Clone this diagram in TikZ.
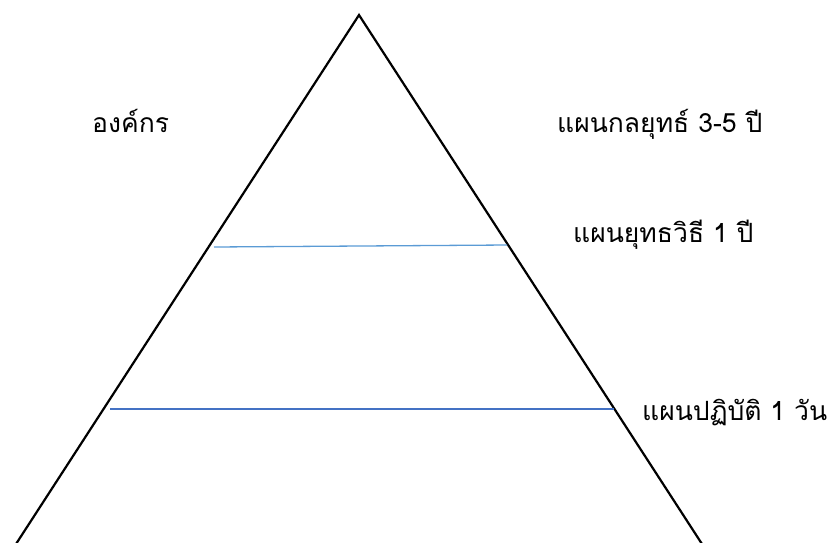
\documentclass[tikz,border=0pt]{standalone}
\usepackage{fontspec}
\usepackage{tikz}
\usetikzlibrary{positioning,calc}
\newfontfamily\thaifont[Script=Thai]{Loma}
\definecolor{lineblue}{RGB}{91,155,213}
\definecolor{darkblue}{RGB}{68,114,196}
\tikzstyle{label} = [anchor=base west, inner sep=0pt, font=\thaifont\fontsize{26.5}{30}\selectfont]
\tikzstyle{edge} = [draw, black, line width=2.2pt, line join=miter]
\tikzstyle{level} = [draw, line width=1.3pt]

\begin{document}
\begin{tikzpicture}[x=1pt, y=-1pt]
			\useasboundingbox (0,0) rectangle (830,542);
			% Place corners
			\coordinate (apex) at (359,15);
			\coordinate (base-left) at (16,544);
			\coordinate (base-right) at (702,544);
			\path [edge] (base-left) -- (apex) -- (base-right);
			% Level lines
			\coordinate (tactic-left) at (214,247);
			\coordinate (tactic-right) at (507,245);
			\coordinate (operate-left) at (110,409);
			\coordinate (operate-right) at (614,409);
			\path [level, lineblue] (tactic-left) -- (tactic-right);
			\path [level, darkblue, line width=1.8pt] (operate-left) -- (operate-right);
			% Place labels
			\node [label] (org) at (92,132) {องค์กร};
			\node [label] (strategy) at (557,132) {แผนกลยุทธ์ 3-5 ปี};
			\node [label] (tactic) at (573,242) {แผนยุทธวิธี 1 ปี};
			\node [label] (operate) at (642,420) {แผนปฏิบัติ 1 วัน};
		\end{tikzpicture}
\end{document}
